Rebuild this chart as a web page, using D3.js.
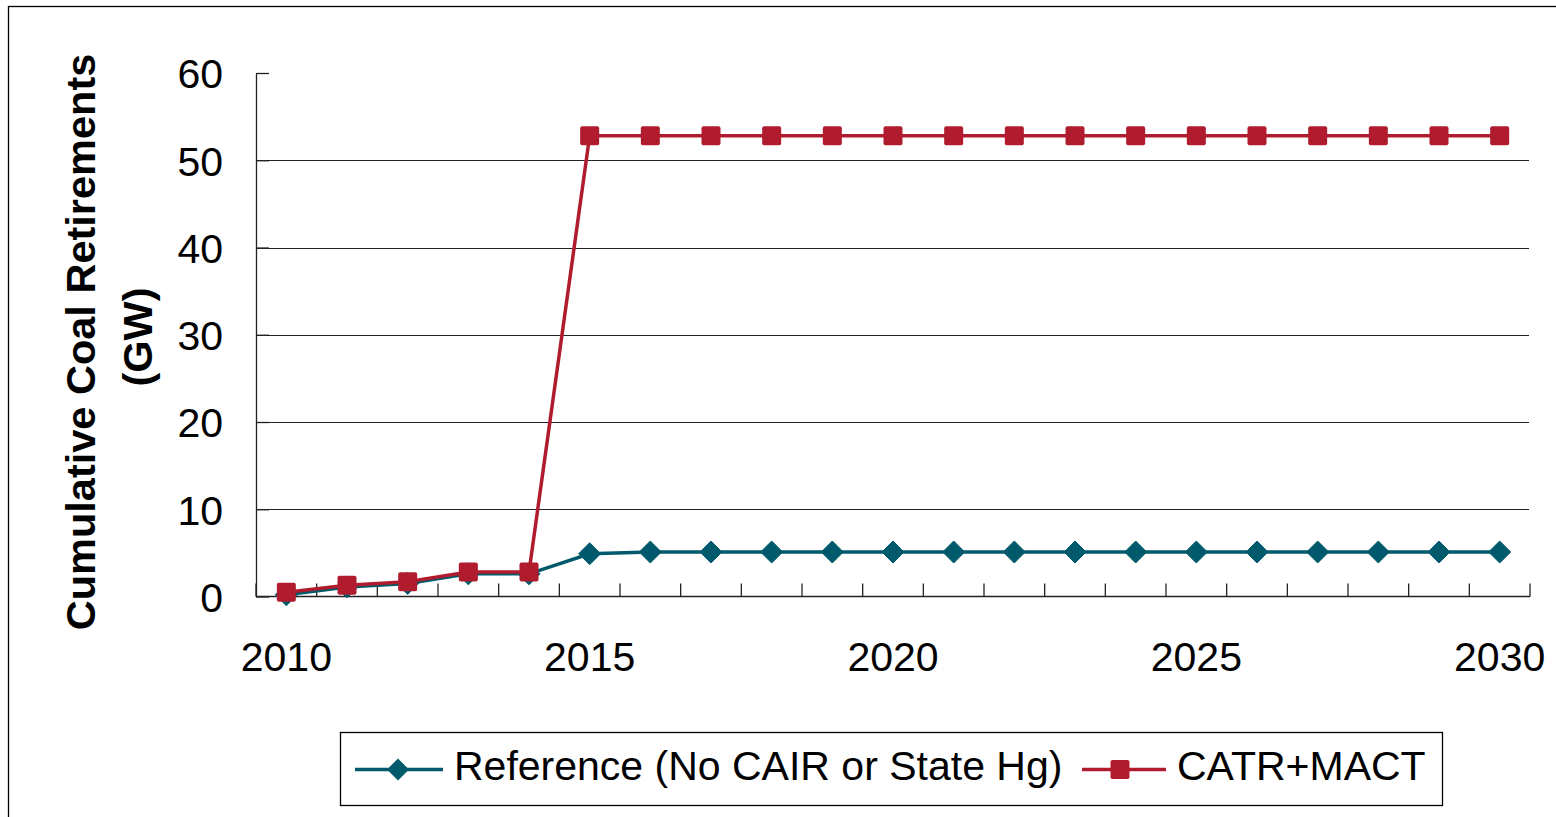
<!DOCTYPE html>
<html><head><meta charset="utf-8">
<script src="https://cdn.jsdelivr.net/npm/d3@7"></script>
<style>
html,body{margin:0;padding:0;background:#fff;}
svg{display:block;font-family:"Liberation Sans",Arial,sans-serif;}
</style></head>
<body><svg id="c" width="1556" height="817"></svg>
<script>
const years = [2010,2011,2012,2013,2014,2015,2016,2017,2018,2019,2020,2021,2022,2023,2024,2025,2026,2027,2028,2029,2030];
const referenceValues = [0.2,1.1,1.5,2.6,2.6,4.9,5.1,5.1,5.1,5.1,5.1,5.1,5.1,5.1,5.1,5.1,5.1,5.1,5.1,5.1,5.1];
const catrMactValues = [0.5,1.3,1.7,2.8,2.8,52.8,52.8,52.8,52.8,52.8,52.8,52.8,52.8,52.8,52.8,52.8,52.8,52.8,52.8,52.8,52.8];
const yTicks = [0,10,20,30,40,50,60];
const xLabelYears = [2010,2015,2020,2025,2030];
const seriesNames = ["Reference (No CAIR or State Hg)","CATR+MACT"];

const svg = d3.select("#c");
const L=256, R=1530, T=73, B=596.5;
const teal="#005a6b", red="#b01c2e";
const FS=41;

svg.append("rect").attr("x",8.5).attr("y",6.5).attr("width",1570).attr("height",830)
  .attr("fill","none").attr("stroke","#000").attr("stroke-width",1.3);

const x = d3.scaleBand().domain(years).range([L,R]).padding(0);
const y = d3.scaleLinear().domain([0,60]).range([B,T]);

// gridlines
svg.append("g").selectAll("line").data(yTicks.filter(d=>d>0&&d<60)).join("line")
  .attr("x1",L).attr("x2",R-1).attr("y1",d=>Math.round(y(d))+0.5).attr("y2",d=>Math.round(y(d))+0.5)
  .attr("stroke","#222").attr("stroke-width",1);

// y axis
const ya = svg.append("g").attr("transform",`translate(${L},0)`)
  .call(d3.axisLeft(y).tickValues(yTicks).tickSizeInner(-13).tickSizeOuter(0).tickPadding(33));
ya.select(".domain").attr("stroke","#222").attr("stroke-width",1.3);
ya.selectAll(".tick line").attr("stroke","#222").attr("stroke-width",1.3);
ya.selectAll("text").attr("font-size",FS).attr("fill","#000").attr("font-family","Liberation Sans, Arial, sans-serif").attr("dy","0.36em");

// x axis
const xa = svg.append("g").attr("transform",`translate(0,${B})`);
xa.append("line").attr("x1",L).attr("x2",R).attr("y1",0).attr("y2",0).attr("stroke","#222").attr("stroke-width",1.6);
const bounds = years.map(d=>x(d)).concat([R]);
xa.selectAll("line.t").data(bounds).join("line").attr("class","t")
  .attr("x1",d=>d).attr("x2",d=>d).attr("y1",0).attr("y2",-13).attr("stroke","#222").attr("stroke-width",1.3);
xa.selectAll("text").data(xLabelYears).join("text")
  .attr("x",d=>x(d)+x.bandwidth()/2).attr("y",74.5).attr("text-anchor","middle")
  .attr("font-size",FS).text(d=>d);

// axis title
const at = svg.append("text").attr("transform","rotate(-90)").attr("font-size",41.5).attr("font-weight","bold").attr("text-anchor","middle");
at.append("tspan").attr("x",-342).attr("y",95).text("Cumulative Coal Retirements");
at.append("tspan").attr("x",-337).attr("y",152).text("(GW)");

const cx = d=>x(d)+x.bandwidth()/2;
const line = d3.line().x((d,i)=>cx(years[i])).y(d=>y(d));

// reference series
svg.append("path").datum(referenceValues).attr("d",line).attr("fill","none").attr("stroke",teal).attr("stroke-width",3.5);
svg.append("g").selectAll("path").data(referenceValues).join("path")
  .attr("transform",(d,i)=>`translate(${cx(years[i])},${y(d)})`)
  .attr("d","M0,-11L11,0L0,11L-11,0Z").attr("fill",teal).attr("stroke",teal).attr("stroke-linejoin","round").attr("stroke-width",1);

// CATR series
svg.append("path").datum(catrMactValues).attr("d",line).attr("fill","none").attr("stroke",red).attr("stroke-width",3.5);
svg.append("g").selectAll("rect").data(catrMactValues).join("rect")
  .attr("x",(d,i)=>cx(years[i])-9.5).attr("y",d=>y(d)-9.5).attr("width",19).attr("height",19).attr("rx",2)
  .attr("fill",red);

// legend
const lg = svg.append("g");
lg.append("rect").attr("x",340.5).attr("y",732.5).attr("width",1102).attr("height",73).attr("fill","none").attr("stroke","#000").attr("stroke-width",1.3);
const ly = 769.5;
lg.append("line").attr("x1",355).attr("x2",443).attr("y1",ly).attr("y2",ly).attr("stroke",teal).attr("stroke-width",3.5);
lg.append("path").attr("transform",`translate(398,${ly})`).attr("d","M0,-11L11,0L0,11L-11,0Z").attr("fill",teal);
lg.append("text").attr("x",454).attr("y",780).attr("font-size",FS).text(seriesNames[0]);
lg.append("line").attr("x1",1082).attr("x2",1166).attr("y1",ly).attr("y2",ly).attr("stroke",red).attr("stroke-width",3.5);
lg.append("rect").attr("x",1120-9.5).attr("y",ly-9.5).attr("width",19).attr("height",19).attr("rx",2).attr("fill",red);
lg.append("text").attr("x",1177).attr("y",780).attr("font-size",FS).text(seriesNames[1]);
</script></body></html>
